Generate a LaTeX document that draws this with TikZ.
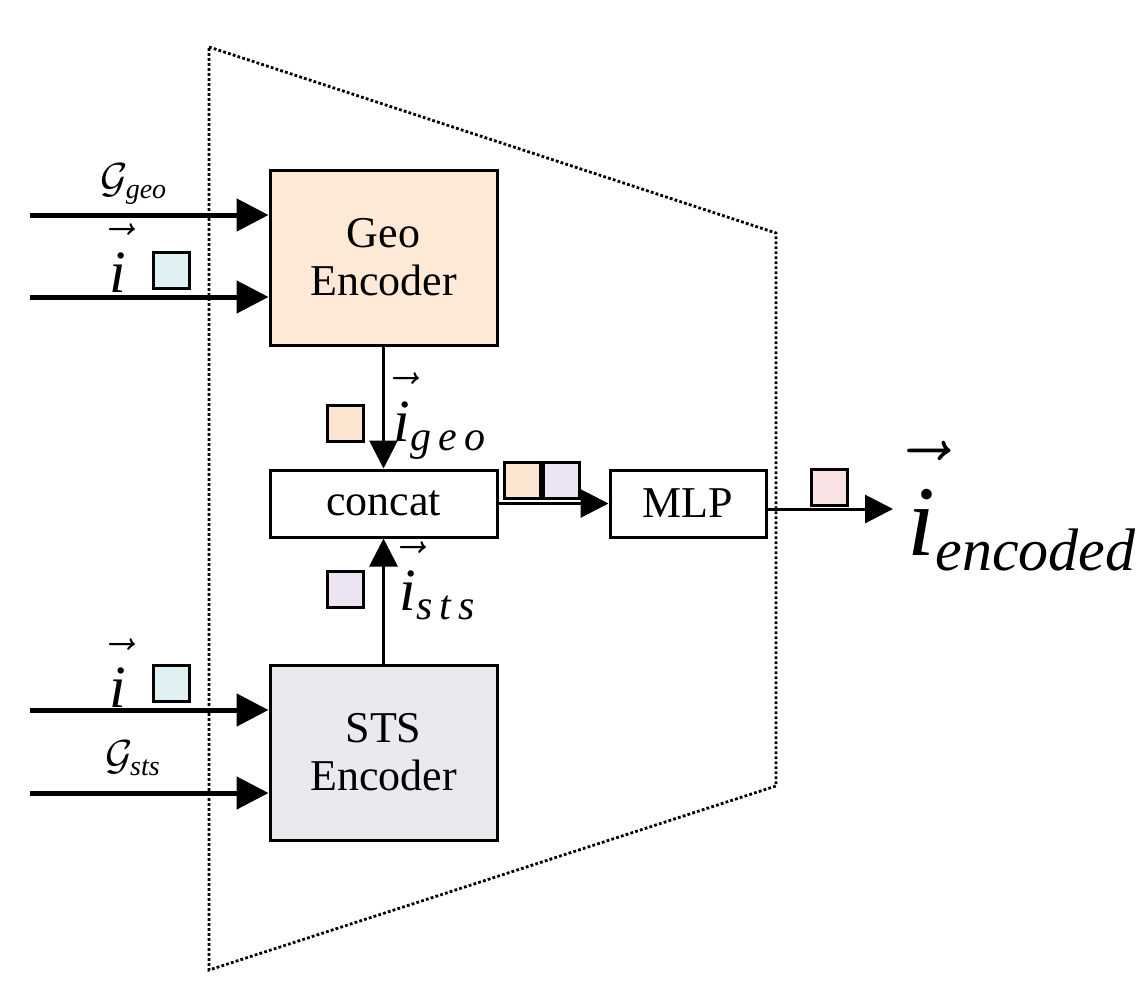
\RequirePackage{fix-cm}
\documentclass[tikz,border=0pt]{standalone}
\usepackage{fontspec}
\setmainfont{Liberation Serif}
\usetikzlibrary{arrows.meta}

\definecolor{geofill}{RGB}{253,233,214}
\definecolor{stsfill}{RGB}{234,233,238}
\definecolor{sqteal}{RGB}{222,240,242}
\definecolor{sqorange}{RGB}{252,230,210}
\definecolor{sqviolet}{RGB}{236,228,242}
\definecolor{sqred}{RGB}{248,226,228}

\newcommand{\veci}{\ensuremath{\vec{\raisebox{0pt}[1.3\height]{\textit{i}}}}}
\newcommand{\subtxt}[2]{\mbox{\fontsize{#1}{#1}\selectfont\itshape #2}}

\begin{document}
\begin{tikzpicture}[x=0.5pt,y=-0.5pt,
  box/.style={draw,line width=1.5pt,inner sep=0pt,font=\fontsize{22}{24}\selectfont},
  vecbox/.style={draw,line width=1.5pt,minimum size=18pt,inner sep=0pt},
  input/.style={line width=2.5pt,-{Triangle[length=16pt,width=16pt]}},
  link/.style={line width=1.5pt,-{Triangle[length=14pt,width=14pt]}}]
\useasboundingbox (0,0) rectangle (1144,996);

%outer frame
\draw[line width=1.4pt,dash pattern=on 1.4pt off 1.1pt] (209,47) -- (776,233) -- (776,786) -- (209,970) -- cycle;

%blocks
\node[box,fill=geofill,minimum width=113.5pt,minimum height=87.5pt,align=center] (geo) at (383.5,257.5) {Geo\\Encoder};
\node[box,fill=stsfill,minimum width=113.5pt,minimum height=87.5pt,align=center] (sts) at (383.5,752.5) {STS\\Encoder};
\node[box,minimum width=113.5pt,minimum height=33.5pt] (concat) at (383.5,503.5) {concat};
\node[box,minimum width=78pt,minimum height=33.5pt] (mlp) at (688,503.5) {MLP};

%inputs of Geo Encoder
\coordinate (g1) at (30,215);
\coordinate (g2) at (30,297);
\draw[input] (g1) -- (g1 -| geo.west);
\draw[input] (g2) -- (g2 -| geo.west);
\node[font=\fontsize{21}{21}\selectfont] (ggeo) at (134,184) {$\mathcal{G}_{\subtxt{14}{geo}}$};
\node[font=\fontsize{30}{30}\selectfont] (igeoin) at (118,258) {\veci};
\node[vecbox,fill=sqteal] (sqgeoin) at (171,270) {};

%inputs of STS Encoder
\coordinate (s1) at (30,710);
\coordinate (s2) at (30,793);
\draw[input] (s1) -- (s1 -| sts.west);
\draw[input] (s2) -- (s2 -| sts.west);
\node[font=\fontsize{30}{30}\selectfont] (istsin) at (118,673) {\veci};
\node[vecbox,fill=sqteal] (sqstsin) at (171,683) {};
\node[font=\fontsize{21}{21}\selectfont] (gsts) at (133,758) {$\mathcal{G}_{\subtxt{14}{sts}}$};

%Geo->concat
\draw[link] (geo) -- (concat);
\node[vecbox,fill=sqorange] (sqgeo) at (345,423) {};
\node[font=\fontsize{30}{30}\selectfont] (igeo) at (440,416) {\veci$_{\subtxt{21}{g\,e\,o}}$};

%STS->concat
\draw[link] (sts) -- (concat);
\node[vecbox,fill=sqviolet] (sqsts) at (345,589) {};
\node[font=\fontsize{30}{30}\selectfont] (ists) at (438,581) {\veci$_{\subtxt{21}{s\,t\,s}}$};

%concat->MLP
\draw[link] (concat) -- (mlp);
\node[vecbox,fill=sqorange] (sqcat1) at (522,480.5) {};
\node[vecbox,fill=sqviolet,anchor=west] (sqcat2) at (sqcat1.east) {};

%MLP->output
\coordinate (out) at (893,509);
\draw[link] (mlp.east |- out) -- (out);
\node[vecbox,fill=sqred] (sqout) at (829,487) {};
\node[font=\fontsize{50}{50}\selectfont] (ienc) at (1022,506) {\veci$_{\subtxt{30}{encoded}}$};

\end{tikzpicture}
\end{document}
